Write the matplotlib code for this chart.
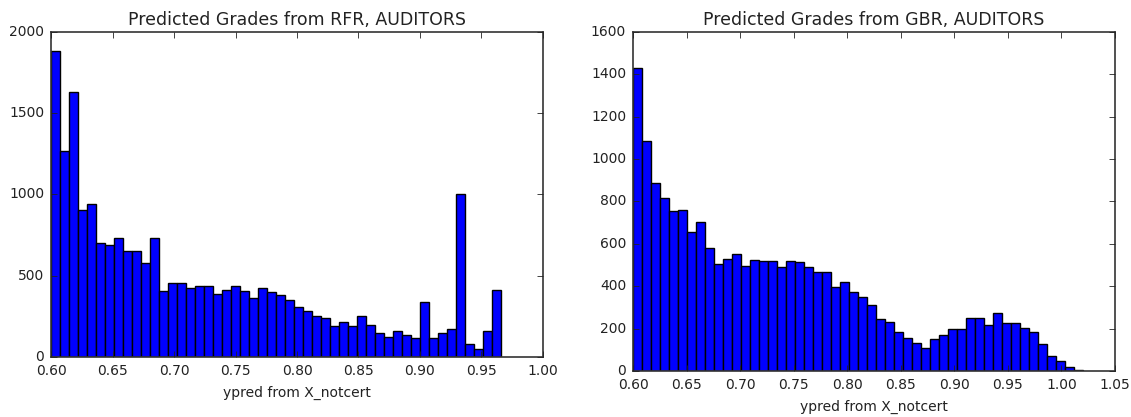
import numpy as np
import matplotlib
matplotlib.use("Agg")
import matplotlib.pyplot as plt

# histogram counts per bin (50 bins each), predicted grades for auditors
rfr_counts = [1880, 1270, 1630, 905, 940, 700, 690, 735, 655, 655,
              580, 735, 405, 455, 455, 425, 435, 435, 390, 415,
              435, 405, 365, 427, 400, 380, 353, 305, 285, 250,
              240, 190, 215, 190, 255, 195, 145, 125, 160, 135,
              115, 340, 115, 150, 170, 1000, 80, 50, 160, 410]
rfr_range = (0.600, 0.966)

gbr_counts = [1430, 1085, 885, 815, 755, 760, 655, 705, 580, 505,
              530, 550, 495, 525, 520, 520, 492, 520, 515, 492,
              468, 468, 397, 421, 374, 350, 311, 244, 232, 184,
              156, 132, 110, 150, 169, 197, 197, 248, 248, 219,
              274, 227, 227, 205, 184, 126, 70, 46, 19, 6]
gbr_range = (0.600, 1.020)

titles = ["Predicted Grades from RFR, AUDITORS", "Predicted Grades from GBR, AUDITORS"]
xlabel = "ypred from X_notcert"

plt.style.use("classic")
plt.rcParams["font.family"] = "DejaVu Sans"

fig = plt.figure(figsize=(11.31, 4.17), dpi=100)
fig.patch.set_facecolor("white")

ax1 = fig.add_axes([0.0451, 0.1439, 0.4350, 0.7794])
ax2 = fig.add_axes([0.5597, 0.1103, 0.4262, 0.8130])


def draw_hist(ax, counts, rng, title, xlim, ylim, xticks, yticks):
    edges = np.linspace(rng[0], rng[1], len(counts) + 1)
    ax.bar(edges[:-1], counts, width=np.diff(edges), align="edge",
           color="#0000ff", edgecolor="black", linewidth=1.0)
    ax.set_xlim(*xlim)
    ax.set_ylim(*ylim)
    ax.set_xticks(xticks)
    ax.set_yticks(yticks)
    ax.set_xticklabels(["%.2f" % t for t in xticks])
    ax.tick_params(labelsize=10, colors="#222222", direction="in",
                   top=True, right=True, length=4, width=0.6, pad=5)
    ax.set_title(title, fontsize=12.5, color="#222222", pad=5)
    ax.set_xlabel(xlabel, fontsize=10, color="#222222", labelpad=6)
    for sp in ax.spines.values():
        sp.set_color("#333333")
        sp.set_linewidth(1.2)


draw_hist(ax1, rfr_counts, rfr_range, titles[0], (0.60, 1.00), (0, 2000),
          np.arange(0.60, 1.001, 0.05), np.arange(0, 2001, 500))
draw_hist(ax2, gbr_counts, gbr_range, titles[1], (0.60, 1.05), (0, 1600),
          np.arange(0.60, 1.051, 0.05), np.arange(0, 1601, 200))

fig.savefig("out.png", dpi=100, facecolor="white")
